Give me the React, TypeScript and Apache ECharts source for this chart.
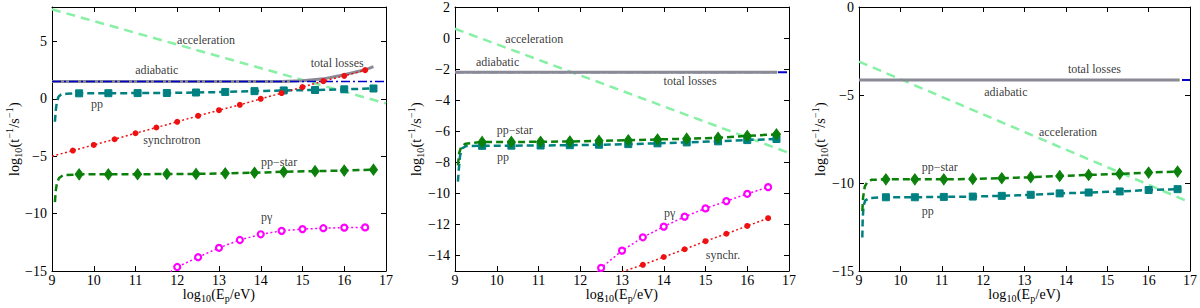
import React, { useEffect, useRef } from "react";
import * as echarts from "echarts";

type Pt = [number, number];
const FONT = "Liberation Serif, Times New Roman, Times, serif";

// ---------- ticks ----------
const xTicks = [9, 10, 11, 12, 13, 14, 15, 16, 17];
const p1YTicks = [-15, -10, -5, 0, 5];
const p2YTicks = [-14, -12, -10, -8, -6, -4, -2, 0, 2];
const p3YTicks = [-15, -10, -5, 0];

// ---------- marker x positions ----------
const ppMarkX = [9.65, 10.35, 11.05, 11.75, 12.45, 13.15, 13.85, 14.55, 15.3, 16.0, 16.7];
const p1SyncX = [9.5, 10, 10.5, 11, 11.5, 12, 12.5, 13, 13.5, 14, 14.5, 15, 15.5, 16, 16.5];
const p1PgX = [12, 12.5, 13, 13.5, 14, 14.5, 15, 15.5, 16, 16.5];
const p2PgX = [12.5, 13, 13.5, 14, 14.5, 15, 15.5, 16, 16.5];
const p2SyncX = [13.5, 14, 14.5, 15, 15.5, 16, 16.5];

// ---------- panel 1 ----------
const p1Acceleration: Pt[] = [[9, 7.8], [17, -0.4]];
const p1Adiabatic: Pt[] = [[9, 1.5], [17, 1.5]];
const p1Total: Pt[] = [[9, 1.5], [14, 1.5], [14.5, 1.52], [15, 1.57], [15.5, 1.74], [16, 2.1], [16.5, 2.53], [16.7, 2.8]];
const p1PpLead: Pt[] = [[9.07, -2.0], [9.09, -1.0], [9.12, -0.2], [9.16, 0.2], [9.22, 0.38], [9.35, 0.44]];
const p1Pp = [0.48, 0.49, 0.5, 0.51, 0.55, 0.6, 0.67, 0.73, 0.77, 0.83, 0.9];
const p1PpStarLead: Pt[] = [[9.07, -9.0], [9.09, -8.0], [9.12, -7.3], [9.17, -6.9], [9.27, -6.65]];
const p1PpStar = [-6.58, -6.58, -6.57, -6.55, -6.54, -6.49, -6.44, -6.36, -6.3, -6.25, -6.17];
const p1SyncLead: Pt[] = [[9.0, -5.0]];
const p1Sync = [-4.51, -4.02, -3.52, -3.0, -2.5, -2.0, -1.48, -0.99, -0.52, 0.0, 0.5, 1.02, 1.54, 2.0, 2.5];
const p1PgLead: Pt[] = [[11.75, -15.3]];
const p1Pg = [-14.65, -13.8, -12.98, -12.3, -11.8, -11.5, -11.35, -11.27, -11.22, -11.2];
const p1Notes: [number, number, string][] = [
  [12.69, 5.15, "acceleration"],
  [15.83, 3.14, "total losses"],
  [11.51, 2.53, "adiabatic"],
  [10.08, -0.44, "pp"],
  [11.87, -3.58, "synchrotron"],
  [14.44, -5.5, "pp\u2212star"],
  [14.14, -10.28, "p\u03b3"],
];

// ---------- panel 2 ----------
const p2Acceleration: Pt[] = [[9, 0.6], [17, -7.4]];
const p2Adiabatic: Pt[] = [[9, -2.2], [17, -2.2]];
const p2Total: Pt[] = [[9, -2.2], [16.72, -2.2]];
const p2PpStarLead: Pt[] = [[9.07, -8.2], [9.1, -7.4], [9.15, -7.0], [9.25, -6.8]];
const p2PpStar = [-6.69, -6.69, -6.68, -6.66, -6.62, -6.58, -6.53, -6.48, -6.42, -6.3, -6.2];
const p2PpLead: Pt[] = [[9.07, -9.25], [9.09, -8.5], [9.12, -7.6], [9.17, -7.1], [9.27, -6.95]];
const p2Pp = [-6.94, -6.93, -6.92, -6.9, -6.87, -6.83, -6.78, -6.72, -6.65, -6.57, -6.5];
const p2PgLead: Pt[] = [[12.4, -15.1]];
const p2Pg = [-14.8, -13.69, -12.83, -12.14, -11.5, -10.97, -10.5, -10.03, -9.6];
const p2SyncLead: Pt[] = [[13.0, -15.05]];
const p2Sync = [-14.6, -14.1, -13.6, -13.08, -12.6, -12.1, -11.6];
const p2Notes: [number, number, string][] = [
  [10.9, -0.09, "acceleration"],
  [10.02, -1.56, "adiabatic"],
  [14.63, -2.78, "total losses"],
  [10.43, -5.93, "pp\u2212star"],
  [10.15, -7.66, "pp"],
  [14.14, -11.25, "p\u03b3"],
  [15.42, -13.97, "synchr."],
];

// ---------- panel 3 ----------
const p3Acceleration: Pt[] = [[9, -3.1], [17, -11.1]];
const p3Adiabatic: Pt[] = [[9, -4.15], [17, -4.15]];
const p3Total: Pt[] = [[9, -4.15], [16.75, -4.15]];
const p3PpStarLead: Pt[] = [[9.08, -11.6], [9.1, -10.8], [9.14, -10.2], [9.2, -9.95], [9.3, -9.82]];
const p3PpStar = [-9.79, -9.79, -9.79, -9.77, -9.73, -9.67, -9.6, -9.54, -9.48, -9.41, -9.35];
const p3PpLead: Pt[] = [[9.08, -13.1], [9.09, -12.0], [9.11, -11.3], [9.15, -11.0], [9.25, -10.85]];
const p3Pp = [-10.81, -10.81, -10.79, -10.77, -10.73, -10.67, -10.59, -10.54, -10.48, -10.4, -10.35];
const p3Notes: [number, number, string][] = [
  [14.69, -3.53, "total losses"],
  [12.55, -4.84, "adiabatic"],
  [14.05, -7.08, "acceleration"],
  [10.95, -9.07, "pp\u2212star"],
  [10.66, -11.59, "pp"],
];

// ---------- colours ----------
const C_ACC = "#86F0A4";
const C_TOT = "#8a8a96";
const C_ADI = "#0000CC";
const C_PP = "#008080";
const C_PPS = "#0b800b";
const C_SYN = "#ee1111";
const C_PG = "#ff00ff";

const zip = (xs: number[], ys: number[]): Pt[] => xs.map((x, i) => [x, ys[i]]);
const minus = (v: number) => String(v).replace("-", "\u2212");

function lineS(gi: number, data: Pt[], color: string, width: number, type: any, z = 2) {
  return {
    type: "line",
    xAxisIndex: gi * 2,
    yAxisIndex: gi * 2,
    data,
    symbol: "none",
    smooth: false,
    clip: true,
    silent: true,
    z,
    lineStyle: { color, width, type },
  };
}

function markS(gi: number, data: Pt[], symbol: string, size: any, fill: string, border: string, bw: number, z = 3) {
  return {
    type: "scatter",
    xAxisIndex: gi * 2,
    yAxisIndex: gi * 2,
    data,
    symbol,
    symbolSize: size,
    clip: true,
    silent: true,
    z,
    itemStyle: { color: fill, borderColor: border, borderWidth: bw, opacity: 1 },
  };
}

function notesS(gi: number, notes: [number, number, string][]) {
  return {
    type: "scatter",
    xAxisIndex: gi * 2,
    yAxisIndex: gi * 2,
    data: notes.map((n) => [n[0], n[1], n[2]]),
    symbolSize: 1,
    silent: true,
    z: 5,
    itemStyle: { color: "rgba(0,0,0,0)" },
    label: {
      show: true,
      position: "inside",
      formatter: (p: any) => p.data[2],
      color: "#000",
      fontSize: 12,
      fontFamily: FONT,
    },
  };
}

type Part = { t: string; k?: "sub" | "sup" };

function composite(parts: Part[], base: number, small: number) {
  const ctx = document.createElement("canvas").getContext("2d")!;
  const kids: any[] = [];
  let x = 0;
  for (const p of parts) {
    const size = p.k ? small : base;
    ctx.font = `${size}px ${FONT}`;
    const w = ctx.measureText(p.t).width;
    const dy = p.k === "sub" ? 4.5 : p.k === "sup" ? -5 : 0;
    kids.push({
      type: "text",
      x,
      y: dy,
      style: {
        text: p.t,
        fontSize: size,
        fontFamily: FONT,
        fill: "#000",
        align: "left",
        verticalAlign: "middle",
        textAlign: "left",
        textVerticalAlign: "middle",
      },
    });
    x += w + 0.3;
  }
  const half = x / 2;
  kids.forEach((k) => (k.x -= half));
  return kids;
}

const xTitleParts: Part[] = [
  { t: "log" },
  { t: "10", k: "sub" },
  { t: "(E" },
  { t: "p", k: "sub" },
  { t: "/eV)" },
];
const yTitleParts: Part[] = [
  { t: "log" },
  { t: "10", k: "sub" },
  { t: "(t" },
  { t: "\u22121", k: "sup" },
  { t: "/s" },
  { t: "\u22121", k: "sup" },
  { t: ")" },
];

export default function App() {
  const ref = useRef<HTMLDivElement>(null);

  useEffect(() => {
    document.body.style.margin = "0";
    if (!ref.current) return;
    const chart = echarts.init(ref.current, undefined, { renderer: "svg" });

    const panels = [
      { left: 52, width: 334, yMin: -15, yMax: 8, yTicks: p1YTicks, yTitleX: 14 },
      { left: 455, width: 334, yMin: -15, yMax: 2, yTicks: p2YTicks, yTitleX: 416 },
      { left: 859, width: 331, yMin: -15, yMax: 0, yTicks: p3YTicks, yTitleX: 820 },
    ];
    const TOP = 7;
    const HEIGHT = 264;

    const grid: any[] = [];
    const xAxis: any[] = [];
    const yAxis: any[] = [];
    const graphic: any[] = [];

    const axLine = { show: true, onZero: false, lineStyle: { color: "#000", width: 1 } };

    panels.forEach((p, gi) => {
      grid.push({ left: p.left, top: TOP, width: p.width, height: HEIGHT, containLabel: false });
      for (const pos of ["bottom", "top"]) {
        xAxis.push({
          type: "value",
          gridIndex: gi,
          position: pos,
          min: 9,
          max: 17,
          interval: 1,
          axisLine: axLine,
          axisTick: { show: true, inside: true, length: 5, lineStyle: { color: "#000" }, customValues: xTicks },
          axisLabel: {
            show: pos === "bottom",
            customValues: xTicks,
            color: "#000",
            fontSize: 14,
            fontFamily: FONT,
            margin: 2,
          },
          splitLine: { show: false },
        });
      }
      for (const pos of ["left", "right"]) {
        yAxis.push({
          type: "value",
          gridIndex: gi,
          position: pos,
          min: p.yMin,
          max: p.yMax,
          interval: 1,
          axisLine: axLine,
          axisTick: { show: true, inside: true, length: 5, lineStyle: { color: "#000" }, customValues: p.yTicks },
          axisLabel: {
            show: pos === "left",
            customValues: p.yTicks,
            formatter: (v: number) => minus(v),
            color: "#000",
            fontSize: 14,
            fontFamily: FONT,
            margin: 5,
          },
          splitLine: { show: false },
        });
      }
      graphic.push({
        type: "group",
        x: p.left + p.width / 2,
        y: 294,
        children: composite(xTitleParts, 14, 10),
      });
      graphic.push({
        type: "group",
        x: p.yTitleX,
        y: TOP + HEIGHT / 2,
        rotation: Math.PI / 2,
        children: composite(yTitleParts, 14, 10),
      });
    });

    const dashAcc = [9, 6];
    const dashPP = [7, 4];
    const dotted = [2, 2.5];
    const dashDot = [9, 3, 2, 3];

    const series: any[] = [
      // panel 1
      lineS(0, p1Acceleration, C_ACC, 2.5, dashAcc, 1),
      lineS(0, p1Total, C_TOT, 3, "solid", 2),
      lineS(0, p1Adiabatic, C_ADI, 1.5, dashDot, 2),
      lineS(0, p1PpLead.concat(zip(ppMarkX, p1Pp)), C_PP, 2.5, dashPP),
      markS(0, zip(ppMarkX, p1Pp), "rect", 7, C_PP, C_PP, 1),
      lineS(0, p1SyncLead.concat(zip(p1SyncX, p1Sync)), C_SYN, 1.5, dotted),
      markS(0, zip(p1SyncX, p1Sync), "circle", 6, C_SYN, C_SYN, 0),
      lineS(0, p1PpStarLead.concat(zip(ppMarkX, p1PpStar)), C_PPS, 2.5, dashPP),
      markS(0, zip(ppMarkX, p1PpStar), "diamond", [8, 11], C_PPS, C_PPS, 1),
      lineS(0, p1PgLead.concat(zip(p1PgX, p1Pg)), C_PG, 1.5, dotted),
      markS(0, zip(p1PgX, p1Pg), "circle", 6, "#ffffff", C_PG, 2.2),
      notesS(0, p1Notes),
      // panel 2
      lineS(1, p2Acceleration, C_ACC, 2.5, dashAcc, 1),
      lineS(1, p2Adiabatic, C_ADI, 2, dashDot, 2),
      lineS(1, p2Total, C_TOT, 3, "solid", 2),
      lineS(1, p2PpLead.concat(zip(ppMarkX, p2Pp)), C_PP, 2.5, dashPP),
      markS(1, zip(ppMarkX, p2Pp), "rect", 7, C_PP, C_PP, 1),
      lineS(1, p2PpStarLead.concat(zip(ppMarkX, p2PpStar)), C_PPS, 2.5, dashPP),
      markS(1, zip(ppMarkX, p2PpStar), "diamond", [8, 11], C_PPS, C_PPS, 1),
      lineS(1, p2PgLead.concat(zip(p2PgX, p2Pg)), C_PG, 1.5, dotted),
      markS(1, zip(p2PgX, p2Pg), "circle", 6, "#ffffff", C_PG, 2.2),
      lineS(1, p2SyncLead.concat(zip(p2SyncX, p2Sync)), C_SYN, 1.5, dotted),
      markS(1, zip(p2SyncX, p2Sync), "circle", 6, C_SYN, C_SYN, 0),
      notesS(1, p2Notes),
      // panel 3
      lineS(2, p3Acceleration, C_ACC, 2.5, dashAcc, 1),
      lineS(2, p3Adiabatic, C_ADI, 2, dashDot, 2),
      lineS(2, p3Total, C_TOT, 3, "solid", 2),
      lineS(2, p3PpLead.concat(zip(ppMarkX, p3Pp)), C_PP, 2.5, dashPP),
      markS(2, zip(ppMarkX, p3Pp), "rect", 7, C_PP, C_PP, 1),
      lineS(2, p3PpStarLead.concat(zip(ppMarkX, p3PpStar)), C_PPS, 2.5, dashPP),
      markS(2, zip(ppMarkX, p3PpStar), "diamond", [8, 11], C_PPS, C_PPS, 1),
      notesS(2, p3Notes),
    ];

    chart.setOption({
      animation: false,
      backgroundColor: "#ffffff",
      grid,
      xAxis,
      yAxis,
      series,
      graphic,
    });

    return () => chart.dispose();
  }, []);

  return <div ref={ref} style={{ width: 1200, height: 308 }} />;
}
